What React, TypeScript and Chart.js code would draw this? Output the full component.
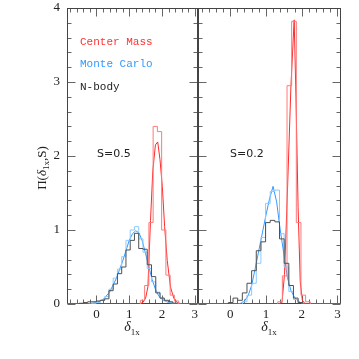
import React, { useEffect, useRef } from "react";
import { Chart, registerables } from "chart.js";

Chart.register(...registerables);

// ---- axes ----
const X_MIN = -0.9;
const X_MAX = 3.1;
const Y_MIN = 0;
const Y_MAX = 4;
const xTickValues = [0, 1, 2, 3];
const yTickValues = [0, 1, 2, 3, 4];
const BIN_WIDTH = 0.13;

// ---- panel S=0.5 ----
const cmHistStartS05 = 1.34;
const cmHistS05 = [0.05, 0.25, 1.1, 2.4, 2.33, 1.0, 0.39, 0.12, 0.04];
const cmCurveXS05 = [-0.1, 1.3, 1.42, 1.5, 1.57, 1.65, 1.72, 1.8, 1.87, 1.94, 2.01, 2.08, 2.16, 2.26, 2.36, 2.47, 2.6];
const cmCurveYS05 = [0, 0, 0.02, 0.08, 0.23, 1.13, 1.8, 2.15, 2.19, 1.95, 1.59, 1.05, 0.59, 0.23, 0.08, 0.02, 0];

const mcHistStartS05 = -0.14;
const mcHistS05 = [0.01, 0.02, 0.05, 0.1, 0.2, 0.35, 0.47, 0.64, 0.86, 1.0, 1.045, 0.88, 0.7, 0.48, 0.3, 0.16, 0.08, 0.04, 0.02, 0.01];
const mcCurveXS05 = [-0.9, -0.3, 0.0, 0.2, 0.4, 0.6, 0.8, 1.0, 1.1, 1.2, 1.3, 1.4, 1.5, 1.6, 1.7, 1.8, 1.9, 2.0, 2.2, 2.4, 2.6, 3.1];
const mcCurveYS05 = [0, 0, 0.02, 0.06, 0.16, 0.34, 0.58, 0.86, 0.95, 0.99, 0.96, 0.85, 0.68, 0.5, 0.33, 0.2, 0.11, 0.06, 0.02, 0.005, 0, 0];

const nbHistStartS05 = -0.53;
const nbHistS05 = [0.01, 0.02, 0.03, 0.03, 0.04, 0.05, 0.07, 0.18, 0.27, 0.41, 0.5, 0.73, 0.86, 0.955, 0.75, 0.74, 0.53, 0.37, 0.15, 0.08, 0.05, 0.03, 0.01];

// ---- panel S=0.2 ----
const cmHistStartS02 = 1.33;
const cmHistS02 = [0.03, 0.38, 2.95, 3.82, 1.1, 0.12, 0.03];
const cmCurveXS02 = [0.37, 1.35, 1.45, 1.52, 1.6, 1.7, 1.79, 1.84, 1.9, 1.96, 2.02, 2.1];
const cmCurveYS02 = [0, 0, 0.02, 0.4, 1.5, 2.95, 3.84, 2.8, 1.3, 0.3, 0.05, 0];

const mcHistStartS02 = 0.34;
const mcHistS02 = [0.03, 0.12, 0.28, 0.55, 0.9, 1.36, 1.52, 1.54, 0.95, 0.5, 0.17, 0.06, 0.02];
const mcCurveXS02 = [-0.9, 0.2, 0.3, 0.4, 0.5, 0.6, 0.7, 0.8, 0.9, 1.0, 1.1, 1.2, 1.3, 1.4, 1.5, 1.6, 1.7, 1.8, 1.9, 2.0, 2.1, 3.1];
const mcCurveYS02 = [0, 0, 0.01, 0.04, 0.11, 0.25, 0.48, 0.72, 0.96, 1.2, 1.42, 1.59, 1.38, 1.0, 0.68, 0.36, 0.18, 0.09, 0.04, 0.01, 0, 0];

const nbHistStartS02 = -0.05;
const nbHistS02 = [0.02, 0.08, 0.05, 0.15, 0.28, 0.45, 0.72, 0.84, 1.1, 1.13, 1.11, 0.88, 0.55, 0.25, 0.08, 0.02];

// ---- style ----
const COL_CM_HIST = "#ff7a7a";
const COL_CM_CURVE = "#ff2a2a";
const COL_MC_HIST = "#8ccbff";
const COL_MC_CURVE = "#3399ff";
const COL_NB_HIST = "#505050";
const FRAME = "#444444";
const TICK_FONT = { family: "'Liberation Serif', serif", size: 13 };

function histPoints(start: number, width: number, heights: number[]) {
  const pts: { x: number; y: number }[] = [{ x: start, y: 0 }];
  heights.forEach((h, i) => pts.push({ x: start + i * width, y: h }));
  pts.push({ x: start + heights.length * width, y: 0 });
  return pts;
}
function curvePoints(xs: number[], ys: number[]) {
  return xs.map((x, i) => ({ x, y: ys[i] }));
}

const framePlugin = {
  id: "frameTicks",
  beforeDatasetsDraw(chart: any) {
    const { ctx, chartArea: a, scales } = chart;
    const xs = scales.x;
    const ys = scales.y;
    const L = Math.round(a.left) + 0.5;
    const R = Math.round(a.right) - 0.5;
    const T = Math.round(a.top) + 0.5;
    const B = Math.round(a.bottom) - 0.5;
    ctx.save();
    ctx.lineWidth = 1;
    ctx.strokeStyle = "#666666";
    ctx.beginPath();
    for (let k = Math.ceil(X_MIN * 5); k <= Math.floor(X_MAX * 5); k++) {
      const px = Math.round(xs.getPixelForValue(k / 5)) + 0.5;
      const len = k % 5 === 0 ? 8 : 4;
      ctx.moveTo(px, B);
      ctx.lineTo(px, B - len);
      ctx.moveTo(px, T);
      ctx.lineTo(px, T + len);
    }
    for (let k = Y_MIN * 5; k <= Y_MAX * 5; k++) {
      const py = Math.round(ys.getPixelForValue(k / 5)) + 0.5;
      const len = k % 5 === 0 ? 8 : 4;
      ctx.moveTo(L, py);
      ctx.lineTo(L + len, py);
      ctx.moveTo(R, py);
      ctx.lineTo(R - len, py);
    }
    ctx.stroke();
    ctx.strokeStyle = FRAME;
    ctx.strokeRect(L, T, R - L, B - T);
    ctx.restore();
  },
};

function makeDatasets(
  cmStart: number, cmHist: number[], cmX: number[], cmY: number[],
  mcStart: number, mcHist: number[], mcX: number[], mcY: number[],
  nbStart: number, nbHist: number[]
) {
  const base = { pointRadius: 0, borderWidth: 1, fill: false, tension: 0 };
  return [
    { ...base, label: "N-body", data: histPoints(nbStart, BIN_WIDTH, nbHist), borderColor: COL_NB_HIST, stepped: "before" },
    { ...base, label: "Monte Carlo hist", data: histPoints(mcStart, BIN_WIDTH, mcHist), borderColor: COL_MC_HIST, stepped: "before" },
    { ...base, label: "Center Mass hist", data: histPoints(cmStart, BIN_WIDTH, cmHist), borderColor: COL_CM_HIST, stepped: "before" },
    { ...base, label: "Monte Carlo", data: curvePoints(mcX, mcY), borderColor: COL_MC_CURVE },
    { ...base, label: "Center Mass", data: curvePoints(cmX, cmY), borderColor: COL_CM_CURVE },
  ];
}

function makeConfig(datasets: any[], showY: boolean, padding: any) {
  return {
    type: "line",
    data: { datasets },
    options: {
      animation: false,
      responsive: false,
      maintainAspectRatio: false,
      layout: { padding },
      plugins: { legend: { display: false }, tooltip: { enabled: false } },
      scales: {
        x: {
          type: "linear",
          min: X_MIN,
          max: X_MAX,
          grid: { display: false, drawTicks: false },
          border: { display: false },
          ticks: { font: TICK_FONT, color: "#222", padding: 3, maxRotation: 0 },
          afterBuildTicks: (s: any) => {
            s.ticks = xTickValues.map((v) => ({ value: v }));
          },
          afterFit: (s: any) => {
            s.height = 22;
            s.paddingLeft = 0;
            s.paddingRight = 0;
            s.paddingTop = 0;
            s.paddingBottom = 0;
          },
        },
        y: {
          type: "linear",
          display: showY,
          min: Y_MIN,
          max: Y_MAX,
          grid: { display: false, drawTicks: false },
          border: { display: false },
          ticks: { font: TICK_FONT, color: "#222", padding: 7 },
          afterBuildTicks: (s: any) => {
            s.ticks = yTickValues.map((v) => ({ value: v }));
          },
          afterFit: (s: any) => {
            s.width = showY ? 67 : 0;
            s.paddingLeft = 0;
            s.paddingRight = 0;
            s.paddingTop = 0;
            s.paddingBottom = 0;
          },
        },
      },
    },
    plugins: [framePlugin],
  };
}

const abs = (left: number, top: number, extra: any = {}) => ({
  position: "absolute" as const,
  left,
  top,
  whiteSpace: "nowrap" as const,
  lineHeight: 1,
  ...extra,
});

export default function App() {
  const leftRef = useRef<HTMLCanvasElement>(null);
  const rightRef = useRef<HTMLCanvasElement>(null);

  useEffect(() => {
    const c1 = new Chart(
      leftRef.current as HTMLCanvasElement,
      makeConfig(
        makeDatasets(cmHistStartS05, cmHistS05, cmCurveXS05, cmCurveYS05, mcHistStartS05, mcHistS05, mcCurveXS05, mcCurveYS05, nbHistStartS05, nbHistS05),
        true,
        { left: 0, right: 2, top: 8, bottom: 33 }
      ) as any
    );
    const c2 = new Chart(
      rightRef.current as HTMLCanvasElement,
      makeConfig(
        makeDatasets(cmHistStartS02, cmHistS02, cmCurveXS02, cmCurveYS02, mcHistStartS02, mcHistS02, mcCurveXS02, mcCurveYS02, nbHistStartS02, nbHistS02),
        false,
        { left: 8, right: 9, top: 8, bottom: 33 }
      ) as any
    );
    return () => {
      c1.destroy();
      c2.destroy();
    };
  }, []);

  const legendFont = { fontFamily: "'Liberation Mono', monospace", fontSize: 11 };
  const labelFont = { fontFamily: "'DejaVu Sans', sans-serif", fontSize: 11, color: "#222" };
  const serif = "'Liberation Serif', serif";

  const deltaTitle = (cx: number) => (
    <div style={abs(cx, 327, { transform: "translate(-50%,-50%)", fontFamily: serif, fontSize: 14, color: "#222" })}>
      <i>δ</i>
      <span style={{ fontSize: 9, position: "relative", top: 4 }}>1x</span>
    </div>
  );

  return (
    <div style={{ position: "absolute", left: 0, top: 0, width: 359, height: 359, background: "#fff" }}>
      <canvas ref={leftRef} width={200} height={359} style={{ position: "absolute", left: 0, top: 0, width: 200, height: 359 }} />
      <canvas ref={rightRef} width={160} height={359} style={{ position: "absolute", left: 190, top: 0, width: 160, height: 359 }} />

      <div style={abs(80, 37, { ...legendFont, color: "#ff3333" })}>Center Mass</div>
      <div style={abs(80, 59, { ...legendFont, color: "#3399ff" })}>Monte Carlo</div>
      <div style={abs(80, 82, { ...legendFont, color: "#222" })}>N-body</div>

      <div style={abs(97, 148, labelFont)}>S=0.5</div>
      <div style={abs(230, 148, labelFont)}>S=0.2</div>

      <div
        style={abs(41, 168, {
          transform: "translate(-50%,-50%) rotate(-90deg)",
          fontFamily: serif,
          fontSize: 13,
          color: "#222",
        })}
      >
        Π(<i>δ</i>
        <span style={{ fontSize: 9, position: "relative", top: 3 }}>1x</span>,S)
      </div>

      {deltaTitle(132)}
      {deltaTitle(269)}
    </div>
  );
}
